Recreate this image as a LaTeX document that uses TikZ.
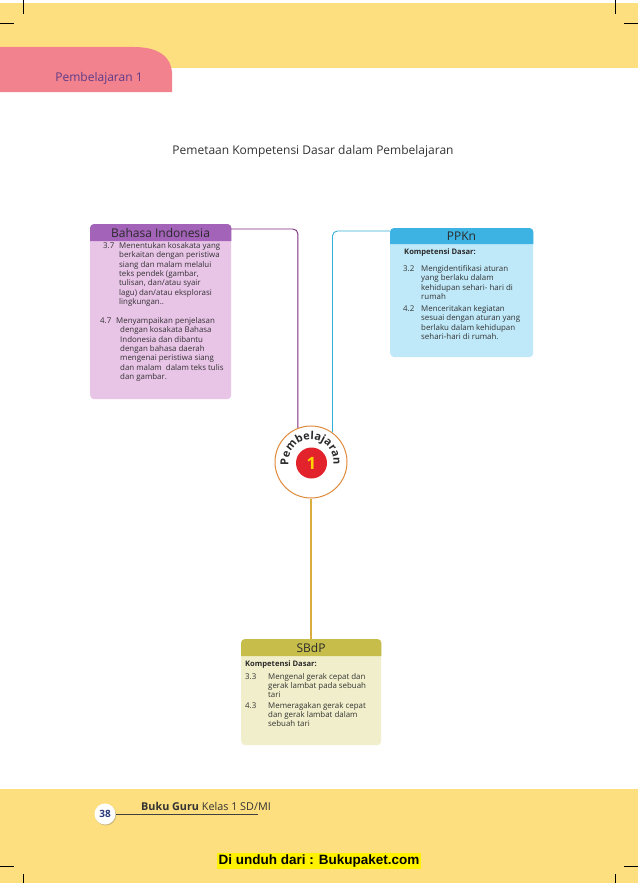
\documentclass[tikz,border=0pt]{standalone}
\usepackage{fontspec}
\setmainfont{Open Sans}
\setsansfont{Open Sans}
\newfontfamily\arialfont{Liberation Sans}
\usetikzlibrary{decorations.text,shadows}
\newcommand\kdst{\rule{0pt}{6.3pt}}
\definecolor{bandyellow}{HTML}{FDDF80}
\definecolor{tabpink}{HTML}{F2838E}
\definecolor{tabtext}{HTML}{5E3A87}
\definecolor{titlegray}{HTML}{333333}
\definecolor{bihead}{HTML}{A363B9}
\definecolor{bibody}{HTML}{E8C4E7}
\definecolor{biline}{HTML}{7B2D7E}
\definecolor{pphead}{HTML}{3DB3E3}
\definecolor{ppbody}{HTML}{BFE9F9}
\definecolor{ppline}{HTML}{35B0D8}
\definecolor{sbhead}{HTML}{C6BD4B}
\definecolor{sbbody}{HTML}{F1EFCB}
\definecolor{goldline}{HTML}{D9AE3E}
\definecolor{circorange}{HTML}{E08A3C}
\definecolor{circred}{HTML}{E3232B}
\definecolor{circyellow}{HTML}{FFD200}
\definecolor{textdark}{HTML}{2A2A2A}
\definecolor{pagenum}{HTML}{2B3A7A}
\tikzset{
  bodybox/.style={rectangle, rounded corners=4, inner sep=0, anchor=north west},
  hdrtext/.style={inner sep=0, text=textdark, font=\fontsize{12}{12}\selectfont},
  kdtext/.style={inner sep=0, anchor=north west, align=left, text=titlegray, font=\fontsize{7.9}{9.3}\selectfont},
  kdsb/.style={kdtext, font=\fontsize{7.9}{8.9}\selectfont},
  kdbold/.style={inner sep=0, anchor=north west, text=textdark, font=\bfseries\fontsize{7.6}{8}\selectfont},
  conn/.style={line width=0.9pt, rounded corners=5},
  crop/.style={line width=0.6pt, black}
}
\begin{document}
\begin{tikzpicture}[x=1pt,y=-1pt]
\useasboundingbox (0,0) rectangle (638,883);
\fill[white] (0,0) rectangle (638,883);
% top band and tab
\fill[bandyellow] (0,3) rectangle (638,68);
\fill[tabpink] (0,92) -- (0,47) -- (134,47) .. controls (160,47) and (171,58) .. (172,72) -- (172,92) -- cycle;
\node[text=tabtext, font=\fontsize{12}{13}\selectfont, inner sep=0] (tab) at (99,78) {Pembelajaran 1};
% crop marks
\draw[crop] (23,0) -- (23,14) (0,23) -- (14,23) (615,0) -- (615,14) (624,23) -- (638,23);
% bottom band
\fill[bandyellow] (0,789) rectangle (638,883);
\draw[crop] (0,866) -- (14,866) (23,874) -- (23,883) (624,866) -- (638,866) (615,874) -- (615,883);
% title
\node[text=titlegray, font=\fontsize{12}{13}\selectfont, inner sep=0] (title) at (313,151) {Pemetaan Kompetensi Dasar dalam Pembelajaran};

% Bahasa Indonesia box
\node[bodybox, fill=bibody, minimum width=141, minimum height=175] (bi) at (90,224) {};
\fill[bihead] (bi.north west) ++(0,17) [rounded corners=4] -- (bi.north west) -- (bi.north east) [sharp corners] -- ++(0,17) -- cycle;
\node[hdrtext, minimum width=141, minimum height=17] (bih) at (160.5,232.5) {Bahasa Indonesia};
\node[kdtext] (bi37n) at (103,242) {\kdst 3.7};
\node[kdtext] (bi37) at (119,242) {\kdst Menentukan kosakata yang\\berkaitan dengan peristiwa\\siang dan malam melalui\\teks pendek (gambar,\\tulisan, dan/atau syair\\lagu) dan/atau eksplorasi\\lingkungan..};
\node[kdtext] (bi47n) at (100,317) {\kdst 4.7};
\node[kdtext] (bi47a) at (116,317) {\kdst Menyampaikan penjelasan};
\node[kdtext] (bi47) at (120,326.3) {\kdst dengan kosakata Bahasa\\Indonesia dan dibantu\\dengan bahasa daerah\\mengenai peristiwa siang\\dan malam\ \ dalam teks tulis\\dan gambar.};

% PPKn box
\node[bodybox, fill=ppbody, minimum width=143, minimum height=129] (pp) at (390,228) {};
\fill[pphead] (pp.north west) ++(0,16) [rounded corners=4] -- (pp.north west) -- (pp.north east) [sharp corners] -- ++(0,16) -- cycle;
\node[hdrtext, minimum width=143, minimum height=16] (pph) at (461.5,236) {PPKn};
\node[kdbold] (ppkd) at (404,249) {Kompetensi Dasar:};
\node[kdtext] (pp32n) at (403,265) {\kdst 3.2};
\node[kdtext] (pp32) at (421,265) {\kdst Mengidentifikasi aturan\\yang berlaku dalam\\kehidupan sehari- hari di\\rumah};
\node[kdtext] (pp42n) at (403,305) {\kdst 4.2};
\node[kdtext] (pp42) at (421,305) {\kdst Menceritakan kegiatan\\sesuai dengan aturan yang\\berlaku dalam kehidupan\\sehari-hari di rumah.};

% SBdP box
\node[bodybox, fill=sbbody, minimum width=140, minimum height=106] (sb) at (241,639) {};
\fill[sbhead] (sb.north west) ++(0,17) [rounded corners=4] -- (sb.north west) -- (sb.north east) [sharp corners] -- ++(0,17) -- cycle;
\node[hdrtext, minimum width=140, minimum height=17] (sbh) at (311,647.5) {SBdP};
\node[kdbold] (sbkd) at (245,661) {Kompetensi Dasar:};
\node[kdsb] (sb33n) at (245,673) {\kdst 3.3};
\node[kdsb] (sb33) at (268,673) {\kdst Mengenal gerak cepat dan\\gerak lambat pada sebuah\\tari};
\node[kdsb] (sb43n) at (245,702) {\kdst 4.3};
\node[kdsb] (sb43) at (268,702) {\kdst Memeragakan gerak cepat\\dan gerak lambat dalam\\sebuah tari};

% central circle
\node[circle, draw=circorange, line width=1pt, fill=white, minimum size=72, inner sep=0] (circ) at (311,462) {};
\node[circle, fill=circred, minimum size=31, inner sep=0, text=circyellow, font=\bfseries\fontsize{17}{17}\selectfont] (num) at (311.5,463) {1};
\begin{scope}[shift={(circ.center)}, x=1pt, y=1pt]
\path[decorate, decoration={text along path, text color=textdark, text={|\bfseries\fontsize{11}{11}\selectfont|Pembelajaran}, text align={fit to path}}] (188:22.5) arc[start angle=188, end angle=-8, radius=22.5];
\end{scope}

% connectors
\draw[conn, draw=biline] ([yshift=3.5pt]bih.east) -| (circ.111);
\draw[conn, draw=ppline] ([yshift=5pt]pph.west) -| (circ.54);
\draw[draw=goldline, line width=1.1pt] (circ.south) -- (sbh.north);

% footer
\node[circle, fill=white, minimum size=21, inner sep=0, drop shadow={shadow xshift=0.8pt, shadow yshift=-1pt, opacity=0.4}, text=pagenum, font=\bfseries\fontsize{10}{10}\selectfont] (pg) at (105,814) {38};
\coordinate (footend) at (258,814);
\draw[line width=0.5pt, black!75] (pg.east) -- (footend);
\node[anchor=south west, inner sep=0, text=black!80, font=\fontsize{10.8}{12}\selectfont] (foot) at (141,811) {\textbf{Buku Guru} Kelas 1 SD/MI};
\node[fill=yellow, inner sep=1.5pt, font=\arialfont\bfseries\fontsize{13.5}{14}\selectfont] (dl) at (319,861) {Di unduh dari : Bukupaket.com};
\end{tikzpicture}
\end{document}
